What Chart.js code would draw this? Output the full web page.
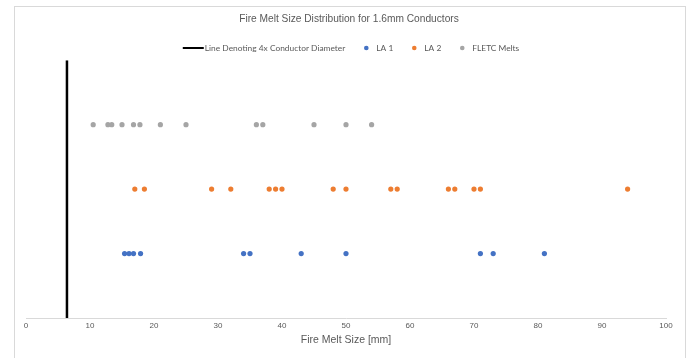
<!DOCTYPE html>
<html>
<head>
<meta charset="utf-8">
<script src="https://cdn.jsdelivr.net/npm/chart.js@4.4.1/dist/chart.umd.min.js"></script>
<style>
  html, body { margin: 0; padding: 0; background: #ffffff; }
  #wrap { width: 686px; height: 358px; position: relative; }
</style>
</head>
<body>
<div id="wrap"><canvas id="chart" width="686" height="358"></canvas></div>
<script>
// Fire melt sizes in mm, one row per source
const la1Sizes   = [15.4, 16.1, 16.8, 17.9, 34, 35, 43, 50, 71, 73, 81];
const la2Sizes   = [17, 18.5, 29, 32, 38, 39, 40, 48, 50, 57, 58, 66, 67, 70, 71, 94];
const fletcSizes = [10.5, 12.8, 13.4, 15, 16.8, 17.8, 21, 25, 36, 37, 45, 50, 54];

// Row level on the (hidden) vertical axis for each source
const la1Row = 1;
const la2Row = 2;
const fletcRow = 3;

// Reference line: 4 × the 1.6 mm conductor diameter
const conductorDiameter = 1.6;
const limitSize = 4 * conductorDiameter;
const limitSpan = [0, 4];

// X axis range and step
const xMin = 0, xMax = 100, xStep = 10;

const seriesLabels = ['Line Denoting 4x Conductor Diameter', 'LA 1', 'LA 2', 'FLETC Melts'];
const seriesColors = ['#000000', '#4472C4', '#ED7D31', '#A5A5A5'];

const TEXT_GREY = '#595959';
const SANS = "'Liberation Sans', Arial, sans-serif";

const toPoints = (sizes, row) => sizes.map(v => ({ x: v, y: row }));

// Thin frame around the chart object
const framePlugin = {
  id: 'frame',
  beforeDraw(chart) {
    const ctx = chart.ctx;
    ctx.save();
    ctx.fillStyle = '#ffffff';
    ctx.fillRect(0, 0, chart.width, chart.height);
    ctx.strokeStyle = '#D9D9D9';
    ctx.lineWidth = 1;
    ctx.strokeRect(14.5, 6.5, chart.width - 15, chart.height + 10);
    ctx.restore();
  }
};

// Single-row legend: a line swatch for the reference line, dots for the series
const rowLegendPlugin = {
  id: 'rowLegend',
  afterDraw(chart, args, opts) {
    const ctx = chart.ctx;
    ctx.save();
    ctx.font = opts.font;
    ctx.textBaseline = 'middle';
    const items = chart.data.datasets.map(ds => ({
      label: ds.label,
      color: ds.borderColor,
      isLine: ds.showLine === true,
      text: ctx.measureText(ds.label).width
    }));
    const swatch = it => it.isLine ? 21 : 6;
    const textGap = it => it.isLine ? 1 : 7;
    let total = 0;
    items.forEach((it, i) => {
      total += swatch(it) + textGap(it) + it.text;
      if (i < items.length - 1) total += opts.itemGap;
    });
    let x = opts.centerX - total / 2;
    const y = opts.y;
    items.forEach(it => {
      if (it.isLine) {
        ctx.strokeStyle = it.color;
        ctx.lineWidth = 2;
        ctx.beginPath();
        ctx.moveTo(x, y);
        ctx.lineTo(x + 21, y);
        ctx.stroke();
      } else {
        ctx.fillStyle = it.color;
        ctx.beginPath();
        ctx.arc(x + 3, y, 2.3, 0, Math.PI * 2);
        ctx.fill();
      }
      x += swatch(it) + textGap(it);
      ctx.fillStyle = TEXT_GREY;
      ctx.fillText(it.label, x, y);
      x += it.text + opts.itemGap;
    });
    ctx.restore();
  }
};

const dotStyle = (color) => ({
  backgroundColor: color,
  borderColor: color,
  borderWidth: 0,
  pointRadius: 2.6,
  pointHoverRadius: 2.6,
  showLine: false
});

new Chart(document.getElementById('chart'), {
  type: 'scatter',
  data: {
    datasets: [
      {
        label: seriesLabels[0],
        data: limitSpan.map(y => ({ x: limitSize, y })),
        showLine: true,
        borderColor: seriesColors[0],
        backgroundColor: seriesColors[0],
        borderWidth: 2.5,
        pointRadius: 0,
        pointHoverRadius: 0
      },
      { label: seriesLabels[1], data: toPoints(la1Sizes, la1Row), ...dotStyle(seriesColors[1]) },
      { label: seriesLabels[2], data: toPoints(la2Sizes, la2Row), ...dotStyle(seriesColors[2]) },
      { label: seriesLabels[3], data: toPoints(fletcSizes, fletcRow), ...dotStyle(seriesColors[3]) }
    ]
  },
  options: {
    responsive: false,
    animation: false,
    events: [],
    layout: { padding: { left: 20, right: 8, top: 0, bottom: 0 } },
    plugins: {
      legend: { display: false },
      tooltip: { enabled: false },
      title: {
        display: true,
        text: 'Fire Melt Size Distribution for 1.6mm Conductors',
        color: TEXT_GREY,
        font: { family: SANS, size: 10.2, weight: 'normal' },
        padding: { top: 13, bottom: 35 }
      },
      rowLegend: {
        font: "8.4px Lato, 'Liberation Sans', sans-serif",
        centerX: 351,
        y: 48,
        itemGap: 18
      }
    },
    scales: {
      x: {
        type: 'linear',
        min: xMin,
        max: xMax,
        grid: { display: false, drawTicks: false },
        border: { display: true, color: '#D9D9D9', width: 1 },
        ticks: {
          stepSize: xStep,
          padding: 3,
          color: TEXT_GREY,
          font: { family: SANS, size: 8 }
        },
        title: {
          display: true,
          text: 'Fire Melt Size [mm]',
          color: TEXT_GREY,
          font: { family: SANS, size: 10.5 },
          padding: { top: 2, bottom: 12 }
        },
        afterFit(scale) { scale.height = 40; }
      },
      y: {
        min: 0,
        max: 4,
        display: true,
        grid: { display: false, drawTicks: false },
        border: { display: false },
        ticks: { display: false },
        afterFit(scale) { scale.width = 6; }
      },
      yRight: {
        position: 'right',
        min: 0,
        max: 4,
        display: true,
        grid: { display: false, drawTicks: false },
        border: { display: false },
        ticks: { display: false },
        afterFit(scale) { scale.width = 12; }
      }
    }
  },
  plugins: [framePlugin, rowLegendPlugin]
});
</script>
</body>
</html>
